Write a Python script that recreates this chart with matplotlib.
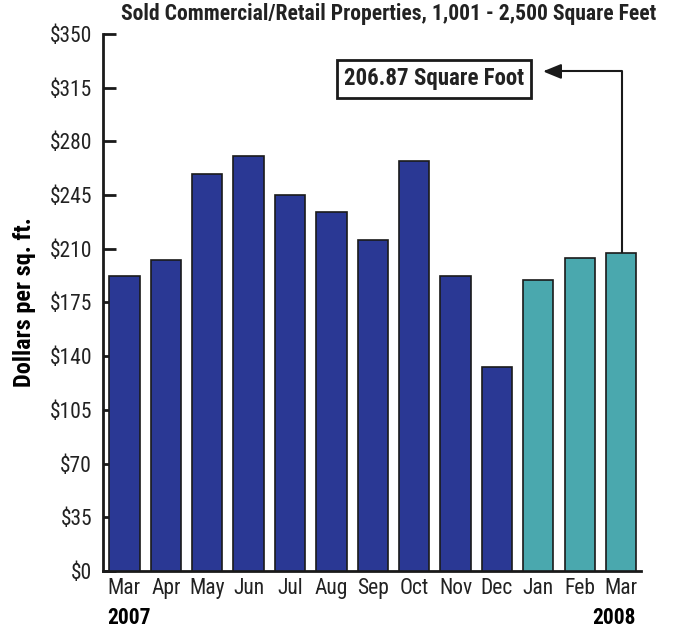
import matplotlib
matplotlib.use("Agg")
import matplotlib.pyplot as plt
import numpy as np

plt.rcParams['font.family'] = ['Roboto Condensed', 'DejaVu Sans']

# data
months = ['Mar', 'Apr', 'May', 'Jun', 'Jul', 'Aug', 'Sep', 'Oct', 'Nov', 'Dec', 'Jan', 'Feb', 'Mar']
values = [192.5, 202.9, 258.8, 270.1, 245.3, 233.6, 215.6, 267.3, 191.9, 133.0, 189.7, 204.0, 206.87]
years = ['2007', '2008']
yticks = list(range(0, 351, 35))

blue = '#2A3894'
teal = '#4AA8AE'
colors = [blue] * 10 + [teal] * 3

fig = plt.figure(figsize=(6.73, 6.32), dpi=100)
ax = fig.add_axes([0.1535, 0.0965, 0.799, 0.850])

x = np.arange(len(months))
ax.bar(x, values, width=0.73, color=colors, edgecolor='#1a1a1a', linewidth=1.2, zorder=3)

ax.set_xlim(-0.51, 12.48)
ax.set_ylim(0, 350)
ax.set_yticks(yticks)
ax.set_yticklabels(['$' + str(v) for v in yticks], fontsize=15.5, color='#222222')
ax.tick_params(axis='y', direction='in', length=9.5, width=2, pad=8, color='#1a1a1a')
ax.set_xticks(x)
ax.set_xticklabels(months, fontsize=15.5, color='#222222')
ax.tick_params(axis='x', length=0, pad=5)

for s in ['top', 'right']:
    ax.spines[s].set_visible(False)
ax.spines['left'].set_linewidth(2)
ax.spines['bottom'].set_linewidth(2)
ax.spines['left'].set_color('#1a1a1a')
ax.spines['bottom'].set_color('#1a1a1a')

ax.set_ylabel('Dollars per sq. ft.', fontsize=17.5, fontweight='bold', labelpad=10)

fig.text(0.578, 1 - 14 / 632, 'Sold Commercial/Retail Properties, 1,001 - 2,500 Square Feet',
         ha='center', va='center', fontsize=15.6, fontweight='bold', color='#222222')

fig.text(107 / 673, 1 - 618 / 632, years[0], ha='left', va='center', fontsize=15.5, fontweight='bold')
fig.text(636 / 673, 1 - 618 / 632, years[1], ha='right', va='center', fontsize=15.5, fontweight='bold')

# annotation for the last bar
ax.annotate('', xy=(10.11, 325.5), xytext=(12.03, values[-1]),
            arrowprops=dict(arrowstyle='-|>,head_length=1.1,head_width=0.45', color='#1a1a1a', lw=1.5,
                            connectionstyle='angle,angleA=90,angleB=0,rad=0', shrinkA=0, shrinkB=0),
            zorder=2)
ax.text(7.48, 320.6, '%.2f Square Foot' % values[-1], ha='center', va='center', fontsize=16.5,
        fontweight='bold', color='#222222',
        bbox=dict(boxstyle='square,pad=0.32', facecolor='white', edgecolor='#1a1a1a', linewidth=2))

fig.savefig('out.png', dpi=100)
